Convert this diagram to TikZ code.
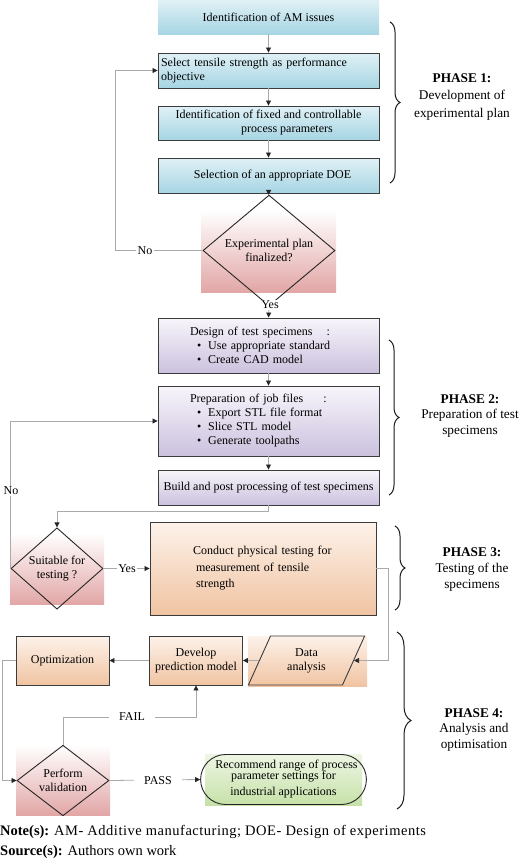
\documentclass[tikz,border=0pt]{standalone}
\usepackage{fontspec}
\setmainfont{Liberation Serif}
\usetikzlibrary{shapes.geometric,shapes.misc,arrows.meta,decorations.pathreplacing}
\definecolor{blueT}{RGB}{224,241,246}
\definecolor{blueB}{RGB}{166,213,227}
\definecolor{purT}{RGB}{248,245,251}
\definecolor{purB}{RGB}{203,193,222}
\definecolor{oraT}{RGB}{253,242,234}
\definecolor{oraB}{RGB}{240,196,162}
\definecolor{pinkM}{RGB}{234,188,188}
\definecolor{pinkB}{RGB}{226,166,166}
\definecolor{greT}{RGB}{238,246,228}
\definecolor{greB}{RGB}{198,225,168}
\definecolor{lineg}{RGB}{170,170,170}
\definecolor{boxc}{RGB}{60,60,60}
\begin{document}
\begin{tikzpicture}[x=1pt,y=-1pt,
  txt/.style={font=\fontsize{12}{14}\selectfont},
  box/.style={txt, draw=boxc, line width=0.9pt, minimum width=221pt, inner sep=3pt},
  bluebox/.style={box, top color=blueT, bottom color=blueB},
  purbox/.style={box, top color=purT, bottom color=purB},
  orabox/.style={box, top color=oraT, bottom color=oraB},
  dia/.style={txt, diamond, draw=black!85, line width=0.9pt, inner sep=0pt, align=center},
  conn/.style={draw=lineg, line width=0.8pt},
  arr/.style={conn, -{Triangle[length=5pt,width=5pt,color=black!85]}},
  lab/.style={txt, fill=white, inner sep=1.5pt},
  phase/.style={font=\fontsize{13.3}{15.7}\selectfont, align=center},
  brc/.style={decorate, decoration={brace, amplitude=10pt}, line width=1pt, draw=black!90}
]
\useasboundingbox (0,0) rectangle (520,862);

% background shadings
\shade[top color=white, middle color=pinkM, bottom color=pinkB] (201,210) rectangle (336,292);
\shade[top color=white, middle color=pinkM, bottom color=pinkB] (10,533) rectangle (104,604);
\shade[top color=white, middle color=pinkM, bottom color=pinkB] (16,745) rectangle (110,815);
\shade[top color=oraT, bottom color=oraB] (248,636) rectangle (367,686);
\shade[top color=greT, bottom color=greB] (205,754) rectangle (362,805);

% phase 1
\node[bluebox, draw=none, minimum height=34pt] (b1) at (268.5,17) {Identification of AM issues};
\node[bluebox, minimum height=35pt, text width=215pt, align=left] (b2) at (268.5,70.5)
  {Select tensile strength as performance\\objective};
\node[bluebox, minimum height=34pt, align=center] (b3) at (268.5,123)
  {Identification of fixed and controllable\\\hspace*{37pt}process parameters};
\node[bluebox, minimum height=35pt] (b4) at (268.5,175.5) {\hspace*{8pt}Selection of an appropriate DOE};
\node[dia, minimum width=132pt, minimum height=82pt] (d1) at (269,250.5)
  {Experimental plan\\finalized?};

% phase 2
\node[purbox, minimum height=55pt, text width=215pt, align=left] (b5) at (268.5,345.5)
  {\hspace*{29pt}Design of test specimens\hspace{14pt}:\\
   \hspace*{36pt}\textbullet\hspace{7pt}Use appropriate standard\\
   \hspace*{36pt}\textbullet\hspace{7pt}Create CAD model};
\node[purbox, minimum height=70pt, text width=215pt, align=left] (b6) at (268.5,421)
  {\hspace*{29pt}Preparation of job files\hspace{20pt}:\\
   \hspace*{36pt}\textbullet\hspace{7pt}Export STL file format\\
   \hspace*{36pt}\textbullet\hspace{7pt}Slice STL model\\
   \hspace*{36pt}\textbullet\hspace{7pt}Generate toolpaths};
\node[purbox, minimum height=35pt, inner sep=1pt] (b7) at (268.5,487.5)
  {Build and post processing of test specimens};

% phase 3
\node[dia, minimum width=92pt, minimum height=67pt] (d2) at (57,568.5)
  {Suitable for\\testing ?};
\node[orabox, minimum width=226pt, minimum height=93pt, text width=220pt, align=left,
  font=\fontsize{12}{16.5}\selectfont] (b8) at (263,568.5)
  {\hspace*{40pt}Conduct physical testing for\\
   \hspace*{43pt}measurement of tensile\\
   \hspace*{43pt}strength};

% phase 4
\node[orabox, minimum width=93pt, minimum height=49pt] (opt) at (62.5,660.5) {Optimization};
\node[orabox, minimum width=93pt, minimum height=49pt, align=center] (dev) at (196,660.5)
  {Develop\\prediction model};
\node[txt, trapezium, trapezium left angle=64, trapezium right angle=116, trapezium stretches=true,
  draw=boxc, line width=0.9pt, minimum width=117pt, minimum height=49pt, inner sep=0pt, align=center] (da) at (306.5,660.5)
  {Data\\analysis};
\node[dia, minimum width=92pt, minimum height=69pt] (d3) at (63,780.5)
  {Perform\\validation};
\node[txt, rounded rectangle, draw=black!85, line width=0.9pt, minimum width=157pt, minimum height=50pt,
  inner sep=0pt, align=center] (rec) at (283.5,779.5)
  {\hspace*{6pt}Recommend range of process\\[-3pt]parameter settings for\\[2pt]industrial applications};

% connectors
\draw[arr] (b1) -- (b2);
\draw[arr] (b2) -- (b3);
\draw[arr] (b3) -- (b4);
\draw[arr] (b4) -- (d1);
\coordinate (c1) at (115,250.5);
\draw[arr] (d1.west) -- (c1) |- (b2.west);
\node[lab] (no1) at (145,250.5) {No};
\draw[arr] (d1) -- (b5);
\node[lab] (yes1) at (270,305) {Yes};
\draw[arr] (b5) -- (b6);
\draw[arr] (b6) -- (b7);
\coordinate (c2) at (268.5,511);
\draw[arr] (b7.south) -- (c2) -| (d2.north);
\draw[arr] (d2.west) |- (b6.west);
\node[lab] (no2) at (11,491) {No};
\draw[arr] (d2.east) -- (b8.west);
\node[lab] (yes2) at (127,568.5) {Yes};
\coordinate (c3) at (388,568.5);
\draw[arr] (b8.east) -- (c3) |- (da.east);
\draw[arr] (da.west) -- (dev.east);
\draw[arr] (dev.west) -- (opt.east);
\coordinate (c4) at (2,660.5);
\draw[arr] (opt.west) -- (c4) |- (d3.west);
\coordinate (c5) at (63,717);
\draw[arr] (d3.north) -- (c5) -| (dev.south);
\node[lab, inner xsep=10pt] (fail) at (132,717) {FAIL};
\draw[arr] (d3.east) -- (rec.west);
\node[lab, inner xsep=10pt] (pass) at (158,780.5) {PASS};

% braces and phase labels
\draw[brc] (390,22) -- (390,183);
\node[phase, font=\fontsize{13.3}{17.7}\selectfont] (p1) at (462,97) {\textbf{PHASE 1:}\\Development of\\experimental plan};
\draw[brc] (389,340) -- (389,495);
\node[phase] (p2) at (470,416) {\textbf{PHASE 2:}\\Preparation of test\\specimens};
\draw[brc] (395,526) -- (395,610);
\node[phase] (p3) at (472,569.5) {\textbf{PHASE 3:}\\Testing of the\\specimens};
\draw[brc, decoration={brace, amplitude=14pt}] (397,632) -- (397,809);
\node[phase] (p4) at (474,730) {\textbf{PHASE 4:}\\Analysis and\\optimisation};

% notes
\node[anchor=west, inner sep=0pt, font=\fontsize{14.5}{17}\selectfont] (note) at (0,832)
  {\textbf{Note(s):} {\addfontfeature{LetterSpace=3.5}AM- Additive manufacturing; DOE- Design of experiments}};
\node[anchor=west, inner sep=0pt, font=\fontsize{14.5}{17}\selectfont] (src) at (0,852)
  {\textbf{Source(s):} Authors own work};
\end{tikzpicture}
\end{document}
